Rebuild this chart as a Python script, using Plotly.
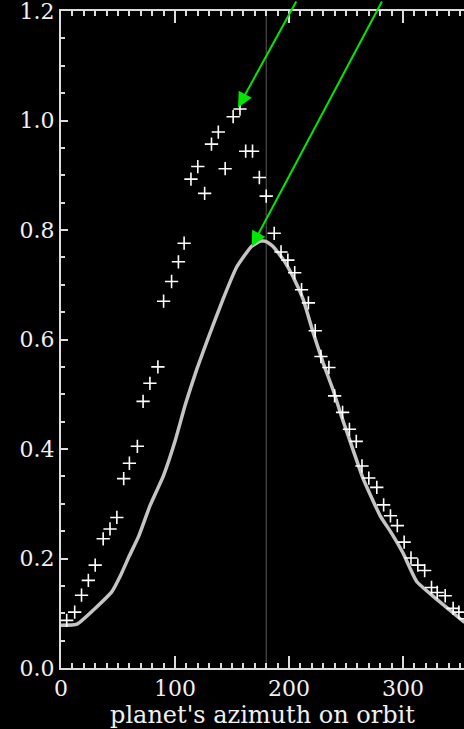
import plotly.graph_objects as go

# Observed points (+ markers)
azimuth_obs = [5, 12, 18, 24, 30, 37, 43, 49, 55, 60, 67, 72, 78, 85, 90, 97, 103, 108,
               114, 120, 126, 132, 138, 144, 151, 157, 162, 168, 174, 180, 187, 193, 199,
               205, 211, 217, 223, 228, 235, 240, 247, 253, 259, 264, 270, 277, 283, 289,
               295, 301, 307, 313, 319, 325, 330, 337, 344, 349, 355]
flux_obs = [0.087, 0.102, 0.133, 0.160, 0.188, 0.236, 0.254, 0.275, 0.346, 0.374, 0.405,
            0.487, 0.520, 0.550, 0.670, 0.706, 0.742, 0.776, 0.893, 0.916, 0.867, 0.957,
            0.979, 0.912, 1.007, 1.021, 0.944, 0.944, 0.896, 0.862, 0.794, 0.760, 0.745,
            0.722, 0.691, 0.667, 0.616, 0.569, 0.549, 0.497, 0.467, 0.436, 0.414, 0.369,
            0.347, 0.330, 0.298, 0.278, 0.260, 0.230, 0.201, 0.188, 0.178, 0.147, 0.138,
            0.132, 0.109, 0.102, 0.090]

# Model curve (gray line)
azimuth_model = [0, 14, 44.5, 52, 60, 68, 78, 90, 100, 109, 119, 129, 142, 154, 167, 175,
                 180, 186, 195, 204, 212.5, 221, 230, 239, 246, 251, 265, 280, 290, 300,
                 312, 327, 341, 353, 360]
flux_model = [0.078, 0.080, 0.139, 0.168, 0.205, 0.240, 0.296, 0.352, 0.414, 0.481, 0.545,
              0.602, 0.673, 0.732, 0.770, 0.780, 0.779, 0.770, 0.746, 0.713, 0.673, 0.614,
              0.557, 0.506, 0.460, 0.430, 0.346, 0.278, 0.246, 0.210, 0.158, 0.130, 0.106,
              0.085, 0.078]

reference_azimuth = 180

# Green arrow tips (data coords)
arrow_tip_x = [155.3, 167.3]
arrow_tip_y = [1.024, 0.770]
# tail offsets in pixels (style)
arrow_ax = [59, 131]
arrow_ay = [-128, -266]

x_ticks = [0, 100, 200, 300]
y_ticks = [0.0, 0.2, 0.4, 0.6, 0.8, 1.0, 1.2]
y_tick_labels = ["0.0", "0.2", "0.4", "0.6", "0.8", "1.0", "1.2"]
x_title = "planet's azimuth on orbit"

FONT = "DejaVu Serif"
AX_COL = "#dcdcdc"
TXT_COL = "#f0f0f0"

fig = go.Figure()
fig.add_trace(go.Scatter(
    x=azimuth_model, y=flux_model, mode="lines",
    line=dict(color="#c4c4c4", width=3.5, shape="spline", smoothing=0.4),
    hoverinfo="skip", showlegend=False))
fig.add_trace(go.Scatter(
    x=azimuth_obs, y=flux_obs, mode="markers",
    marker=dict(symbol="cross-thin", size=9.5, line=dict(color="white", width=1.6)),
    showlegend=False))

fig.add_shape(type="line", xref="x", yref="paper", x0=reference_azimuth, x1=reference_azimuth,
              y0=0, y1=1, line=dict(color="#5a5a5a", width=1), layer="below")

for tx, ty, ax, ay in zip(arrow_tip_x, arrow_tip_y, arrow_ax, arrow_ay):
    fig.add_annotation(x=tx, y=ty, ax=ax, ay=ay, text="", showarrow=True,
                       arrowhead=2, arrowsize=1.5, arrowwidth=2, arrowcolor="#00e600",
                       standoff=0)

fig.update_layout(
    width=464, height=729,
    margin=dict(l=61, r=0, t=11, b=61),
    paper_bgcolor="black", plot_bgcolor="black",
    font=dict(family=FONT, size=22, color=TXT_COL),
    xaxis=dict(range=[0, 353.5], tickvals=x_ticks, ticks="inside", ticklen=12, tickwidth=2,
               tickcolor=AX_COL, showline=True, linecolor=AX_COL, linewidth=2, mirror="ticks",
               showgrid=False, zeroline=False, ticklabeloverflow="allow",
               minor=dict(dtick=10, ticks="inside", ticklen=5, tickwidth=1.5, tickcolor=AX_COL,
                          showgrid=False),
               tickfont=dict(family=FONT, size=22, color=TXT_COL),
               title=dict(text=x_title, font=dict(family=FONT, size=24, color=TXT_COL),
                          standoff=2)),
    yaxis=dict(range=[0, 1.2001], tickvals=y_ticks, ticktext=y_tick_labels, ticks="inside",
               ticklen=7, tickwidth=2, tickcolor=AX_COL, showline=True, linecolor=AX_COL,
               linewidth=2, mirror=False, showgrid=False, zeroline=False,
               ticklabeloverflow="allow",
               minor=dict(dtick=0.05, ticks="inside", ticklen=4, tickwidth=1.5,
                          tickcolor=AX_COL, showgrid=False),
               tickfont=dict(family=FONT, size=22, color=TXT_COL)),
)

fig.write_html("out.html")
